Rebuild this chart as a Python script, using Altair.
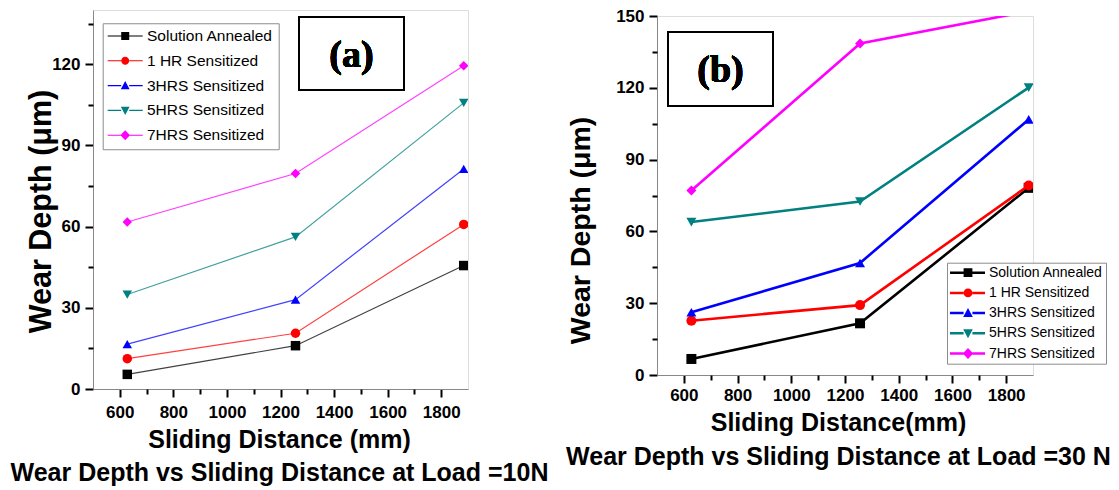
import altair as alt
import pandas as pd

# ---------------- data ----------------
series = ["Solution Annealed", "1 HR Sensitized", "3HRS Sensitized",
          "5HRS Sensitized", "7HRS Sensitized"]
distance = [628, 1256, 1884]

# Load = 10 N  (panel a)
sa_10 = [5.4, 16.0, 45.6]
hr1_10 = [11.2, 20.6, 60.8]
hr3_10 = [16.6, 33.0, 81.3]
hr5_10 = [34.9, 56.2, 105.7]
hr7_10 = [61.7, 79.6, 119.4]

# Load = 30 N  (panel b)
sa_30 = [6.7, 21.6, 78.2]
hr1_30 = [22.7, 29.2, 79.2]
hr3_30 = [26.2, 46.8, 106.8]
hr5_30 = [63.9, 72.5, 120.1]
hr7_30 = [77.1, 138.5, 152.0]

x_ticks = [600, 800, 1000, 1200, 1400, 1600, 1800]
x_minor = [700, 900, 1100, 1300, 1500, 1700]
y_ticks = [0, 30, 60, 90, 120, 150]
y_minor = [15, 45, 75, 105, 135]

colors = ["#000000", "#ff0000", "#0000ff", "#008080", "#ff00ff"]
shapes = ["square", "circle", "triangle-up", "triangle-down", "diamond"]

SANS = "Liberation Sans, Arial, sans-serif"
SERIF = "Liberation Serif, Times New Roman, serif"


def frame(values):
    rows = []
    for s, vals in zip(series, values):
        for d, v in zip(distance, vals):
            rows.append({"series": s, "distance": d, "depth": v})
    return pd.DataFrame(rows)


def legend_paths(left, right, mx, t, r):
    """line segment + marker glyphs, in symbol units"""
    a, b = mx - r, mx + r
    line = f"M{left},{-t}H{a}V{t}H{left}Z M{b},{-t}H{right}V{t}H{b}Z "
    return [
        line + f"M{a},{-r}H{b}V{r}H{a}Z",
        line + f"M{a},0A{r},{r} 0 1,1 {b},0A{r},{r} 0 1,1 {a},0Z",
        line + f"M{mx},{-1.15*r}L{b+0.1},{0.9*r}L{a-0.1},{0.9*r}Z",
        line + f"M{mx},{1.15*r}L{b+0.1},{-0.9*r}L{a-0.1},{-0.9*r}Z",
        line + f"M{mx},{-1.25*r}L{b+0.2},0L{mx},{1.25*r}L{a-0.2},0Z",
    ]


TICKS = dict(ticks=True, tickColor="#000000", tickWidth=2, tickOpacity=1,
             grid=False)


def panel(df, width, height, ymax, line_w, line_op, msize, xtitle, ttl,
          leg, box, label):
    xs = alt.Scale(domain=[500, 1900], nice=False, zero=False)
    ys = alt.Scale(domain=[0, ymax], nice=False)

    major_x = alt.Axis(values=x_ticks, orient="bottom", title=xtitle,
                       format="d", tickSize=8, **TICKS,
                       labelFont=SANS, labelFontSize=17, labelFontWeight="bold",
                       labelPadding=ttl["xpad"], titleFont=SANS,
                       titleFontSize=ttl["xfs"], titleFontWeight="bold",
                       titleLineHeight=ttl["lh"], titleX=ttl["xtx"],
                       titleY=ttl["xty"], titleAlign="center",
                       titleBaseline="alphabetic", zindex=1)
    major_y = alt.Axis(values=[v for v in y_ticks if v <= ymax], orient="left",
                       title="Wear Depth (μm)", format="d", tickSize=8, **TICKS,
                       labelFont=SANS, labelFontSize=17, labelFontWeight="bold",
                       labelPadding=5, titleFont=SANS,
                       titleFontSize=ttl["yfs"], titleFontWeight="bold",
                       titleAngle=270, titleX=ttl["ytx"], titleY=ttl["yty"],
                       titleAlign="center", titleBaseline="middle", zindex=1)
    minor_x = alt.Axis(values=x_minor, orient="bottom", labels=False, title=None,
                       domain=False, tickSize=5, zindex=1, **TICKS)
    minor_y = alt.Axis(values=y_minor, orient="left", labels=False, title=None,
                       domain=False, tickSize=5, zindex=1, **TICKS)

    layers = []
    for i, (s, c, sh) in enumerate(zip(series, colors, shapes)):
        base = alt.Chart(df).transform_filter(alt.datum.series == s)
        ln = base.mark_line(strokeWidth=line_w, opacity=line_op, color=c,
                            clip=True).encode(
            x=alt.X("distance:Q", scale=xs, axis=major_x if i == 0 else None),
            y=alt.Y("depth:Q", scale=ys, axis=major_y if i == 0 else None),
        )
        pts = base.mark_point(filled=True, shape=sh, color=c, size=msize,
                              opacity=1, clip=True).encode(
            x=alt.X("distance:Q", scale=xs, axis=minor_x if i == 0 else None),
            y=alt.Y("depth:Q", scale=ys, axis=minor_y if i == 0 else None),
        )
        layers += [ln, pts]

    legend_layer = alt.Chart(df).transform_filter("false").mark_point(
        filled=True, size=64, opacity=1).encode(
        color=alt.Color("series:N", scale=alt.Scale(domain=series, range=colors),
                        legend=alt.Legend(
            title=None, orient="none", legendX=leg["x"], legendY=leg["y"],
            padding=leg["pad"], strokeColor="#8c8c8c", fillColor="white",
            labelFont=SANS, labelFontSize=leg["fs"], labelColor="black",
            labelOffset=leg["off"], rowPadding=leg["row"], symbolSize=64,
            symbolStrokeWidth=0, symbolOffset=0, symbolOpacity=1,
            labelLimit=400)),
        shape=alt.Shape("series:N", scale=alt.Scale(domain=series,
                                                    range=leg["paths"]),
                        legend=alt.Legend(title=None, orient="none",
                                          legendX=leg["x"], legendY=leg["y"])),
    )
    layers.append(legend_layer)

    rect = alt.Chart(df).mark_rect(fill="white", stroke="black",
                                   strokeWidth=2).encode(
        x=alt.value(box[0]), x2=alt.value(box[1]),
        y=alt.value(box[2]), y2=alt.value(box[3]))
    txt = alt.Chart(df).mark_text(text=label, font=SERIF, fontWeight="bold",
                                  fontSize=38, align="center",
                                  baseline="middle", color="black").encode(
        x=alt.value((box[0] + box[1]) / 2), y=alt.value(box[4]))
    layers += [rect, txt]

    return alt.layer(*layers).resolve_axis(
        x="independent", y="independent").properties(width=width,
                                                      height=height)


df_a = frame([sa_10, hr1_10, hr3_10, hr5_10, hr7_10])
df_b = frame([sa_30, hr1_30, hr3_30, hr5_30, hr7_30])

chart_a = panel(
    df_a, 375, 379, 140, 1.2, 0.75, 90,
    ["Sliding Distance (mm)", "Wear Depth vs Sliding Distance at Load =10N"],
    {"xpad": 7, "xfs": 25, "xtx": 186, "xty": 58, "lh": 33, "yfs": 30.5,
     "ytx": -52, "yty": 201},
    {"x": 9.7, "y": 13.25, "pad": 5, "fs": 15.5, "off": 23.8, "row": 7.8,
     "paths": legend_paths(-1.94, 6.81, 2.44, 0.14, 1.0)},
    [206, 311, 7, 80, 46], "(a)")

chart_b = panel(
    df_b, 376, 359, 150, 2.6, 1.0, 100,
    ["Sliding Distance(mm)", "Wear Depth vs Sliding Distance at Load =30 N"],
    {"xpad": 4, "xfs": 25, "xtx": 181, "xty": 55, "lh": 34, "yfs": 28.5,
     "ytx": -77, "yty": 214},
    {"x": 290, "y": 246.7, "pad": 3, "fs": 14, "off": 25, "row": 6.2,
     "paths": legend_paths(-1.75, 7.0, 2.75, 0.31, 1.1)},
    [11, 116, 16, 90, 55], "(b)")

spacer = alt.Chart(pd.DataFrame({"v": [0]})).mark_point(opacity=0).properties(
    width=376, height=1, view=alt.ViewBackground(stroke="transparent"))

right_col = alt.vconcat(spacer, chart_b, spacing=5, bounds="flush").resolve_scale(
    color="independent", shape="independent")

chart = alt.hconcat(chart_a, right_col, spacing=189, bounds="flush").resolve_scale(
    color="independent", shape="independent").properties(
    padding={"left": 1, "top": -2, "right": 0, "bottom": 0}
).configure_view(stroke="black", strokeWidth=2).configure_axis(
    domainColor="black", domainWidth=2, tickColor="black", tickWidth=2,
    labelColor="black", titleColor="black", grid=False
).configure(background="white")

chart.save("out.html", embed_options={"renderer": "svg", "actions": False})
